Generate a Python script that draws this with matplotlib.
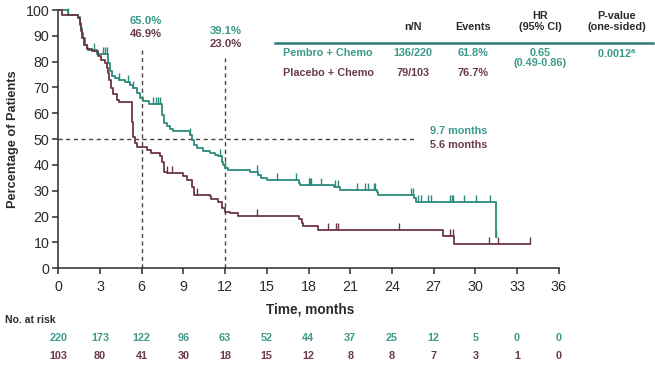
import numpy as np
import matplotlib
matplotlib.use("Agg")
import matplotlib.pyplot as plt
from matplotlib.path import Path
import matplotlib.transforms as mtransforms

plt.rcParams['font.family'] = ['Liberation Sans', 'DejaVu Sans']

# ---------------- data ----------------
pembro_t = [0, 0.7, 1.4, 1.56, 1.63, 1.68, 1.8, 1.9, 2.04, 2.16, 2.8, 3.6, 3.7, 3.84, 4.08, 4.4,
            4.8, 5.16, 5.4, 5.64, 5.9, 6.1, 6.5, 7.44, 7.63, 7.8, 8.04, 8.27, 9.5, 9.6, 9.76,
            9.95, 10.4, 10.9, 11.27, 11.5, 11.75, 11.87, 12.0, 12.2, 13.8, 14.4, 14.6, 15.0,
            17.3, 17.4, 19.8, 20.3, 22.9, 23.0, 25.6, 25.7, 31.5]
pembro_s = [100, 98.2, 97.1, 95, 93, 91, 89, 86.5, 85.3, 84.6, 83, 79.5, 76.2, 74.3, 73.6, 73,
            72.1, 71, 69.8, 67.8, 65.9, 64.6, 63.6, 59.4, 56.2, 54.9, 53.9, 53.3, 51.7, 49.7, 47.8,
            46.5, 45.6, 44.8, 43.9, 43.3, 41.3, 40, 38.8, 38.1, 37.4, 36.2, 34.9, 34,
            32.9, 32.3, 31.4, 30.3, 29.7, 28.4, 27.1, 25.6, 12.3]
pembro_cens = [0.7, 2.6, 3.2, 3.35, 3.5, 4.4, 5.0, 5.4, 6.8, 7.0, 7.15, 7.3, 9.5, 11.6, 12.0,
               14.3, 15.7, 17.1, 18.0, 18.1, 18.2, 18.9, 19.9, 20.1, 21.5, 22.1, 22.3, 22.7, 22.8,
               25.4, 25.5, 25.9, 26.1, 26.6, 26.8, 28.2, 28.3, 28.4, 29.2, 30.05, 31.05, 31.5]

placebo_t = [0, 0.24, 1.44, 1.56, 1.63, 1.73, 1.87, 2.04, 2.4, 2.83, 3.1, 3.36, 3.48, 3.6, 3.67,
             3.8, 3.96, 4.2, 4.4, 5.3, 5.4, 5.5, 5.64, 6.36, 6.7, 7.3, 7.48, 7.63, 7.8, 9.0, 9.24,
             9.6, 9.76, 10.9, 11.0, 11.5, 11.75, 12.0, 12.35, 12.95, 17.3, 17.5, 17.6, 18.7,
             27.7, 28.5, 33.9]
placebo_s = [100, 98.2, 96.9, 94.3, 91.7, 89.1, 86.5, 85, 84, 82, 80.7, 79.5, 77.5, 75.6, 73,
             69.8, 67.4, 65.2, 64.3, 56.8, 51, 48.4, 47.1, 45.8, 44.8, 43.5, 41.3, 37.4, 36.8, 35.8, 34.2,
             31.6, 28.4, 27.8, 26.7, 25.8, 23.3, 21.9, 21.3, 20.3, 19, 17.4, 16.4, 14.8,
             12.5, 9.4, 9.4]
placebo_cens = [7.85, 8.2, 9.95, 14.3, 19.4, 20.0, 20.1, 24.5, 28.2, 28.4, 31.0, 31.6, 33.9]

risk_times = [0, 3, 6, 9, 12, 15, 18, 21, 24, 27, 30, 33, 36]
pembro_risk = [220, 173, 122, 96, 63, 52, 44, 37, 25, 12, 5, 0, 0]
placebo_risk = [103, 80, 41, 30, 18, 15, 12, 8, 8, 7, 3, 1, 0]

landmark_times = [6, 12]
pembro_landmark = ["65.0%", "39.1%"]
placebo_landmark = ["46.9%", "23.0%"]
median_labels = ["9.7 months", "5.6 months"]

groups = ["Pembro + Chemo", "Placebo + Chemo"]
table_cols = ["n/N", "Events", "HR\n(95% CI)", "P-value\n(one-sided)"]
table_nN = ["136/220", "79/103"]
table_events = ["61.8%", "76.7%"]
table_hr = "0.65\n(0.49-0.86)"
table_p = "0.0012$^{\\mathregular{a}}$"

# ---------------- style ----------------
TEAL = "#2b8a7c"
TEAL_TXT = "#3c9a8b"
MAROON = "#6b3646"
MAROON_TXT = "#6a3a47"
DARK = "#2b2b2b"

W, H = 655, 368
fig = plt.figure(figsize=(W / 100, H / 100), dpi=100)

def fx(x):
    return x / W

def fy(y):
    return 1 - y / H

ax = fig.add_axes([fx(58.3), fy(268.3), fx(558.7) - fx(58.3), fy(10) - fy(268.3)])
ax.set_xlim(0, 36)
ax.set_ylim(0, 100)
for s in ["top", "right"]:
    ax.spines[s].set_visible(False)
for s in ["left", "bottom"]:
    ax.spines[s].set_linewidth(1.1)
    ax.spines[s].set_color(DARK)
ax.set_xticks(risk_times)
ax.set_yticks(range(0, 101, 10))
ax.tick_params(direction="out", length=4, width=1.1, colors=DARK, labelsize=10.3, pad=2.5)
ax.tick_params(axis="x", pad=4.5)
ax.set_ylabel("Percentage of Patients", fontsize=9.2, fontweight="bold", color=DARK, labelpad=5)

# censor marker (upward tick)
tick_marker = Path([(0, 0), (0, 1)], [Path.MOVETO, Path.LINETO])

def step_val(ts, ss, t):
    i = np.searchsorted(ts, t, side="right") - 1
    return ss[i]

for ts, ss, cens, col in [(pembro_t, pembro_s, pembro_cens, TEAL),
                          (placebo_t, placebo_s, placebo_cens, MAROON)]:
    ax.plot(ts, ss, drawstyle="steps-post", color=col, lw=1.3, clip_on=False, zorder=3)
    cy = [step_val(np.array(ts), np.array(ss), c) for c in cens]
    ax.plot(cens, cy, linestyle="none", marker=tick_marker, markersize=9.5,
            markeredgewidth=1.0, color=col, clip_on=False, zorder=3)

# reference lines
dash = dict(color="#444444", lw=1.0, linestyle=(0, (3, 2.5)), zorder=1)
ax.plot([0, 25.8], [50, 50], **dash)
ax.plot([landmark_times[0]] * 2, [0, 84.6], **dash)
ax.plot([landmark_times[1]] * 2, [0, 81.5], **dash)

# landmark annotations
offs = [0.3, 0.05]
tops = [20.5, 30.5]
for lt, p, q, o, ty in zip(landmark_times, pembro_landmark, placebo_landmark, offs, tops):
    fig.text(fx(58.3 + (lt + o) * 13.9), fy(ty), p, color=TEAL_TXT, fontsize=8.2,
             fontweight="bold", ha="center", va="center")
    fig.text(fx(58.3 + (lt + o) * 13.9), fy(ty + 13.5), q, color=MAROON_TXT, fontsize=8.2,
             fontweight="bold", ha="center", va="center")

# median annotations
fig.text(fx(430), fy(131.5), median_labels[0], color=TEAL_TXT, fontsize=7.8,
         fontweight="bold", ha="left", va="center")
fig.text(fx(430), fy(145), median_labels[1], color=MAROON_TXT, fontsize=7.8,
         fontweight="bold", ha="left", va="center")

# summary table
col_x = [413, 473, 540, 617]
for cx, lab in zip(col_x, table_cols):
    fig.text(fx(cx), fy(31.5), lab, color=DARK, fontsize=7.8, fontweight="bold",
             ha="center", va="bottom", linespacing=1.05)
fig.add_artist(plt.Line2D([fx(275), fx(653)], [fy(42.7), fy(42.7)], color="#2f7d72", lw=1.8))
row_y = [53.3, 73.3]
row_cols = [TEAL_TXT, MAROON_TXT]
for i in range(2):
    fig.text(fx(283), fy(row_y[i]), groups[i], color=row_cols[i], fontsize=7.8,
             fontweight="bold", ha="left", va="center")
    fig.text(fx(col_x[0]), fy(row_y[i]), table_nN[i], color=row_cols[i], fontsize=7.8,
             fontweight="bold", ha="center", va="center")
    fig.text(fx(col_x[1]), fy(row_y[i]), table_events[i], color=row_cols[i], fontsize=7.8,
             fontweight="bold", ha="center", va="center")
fig.text(fx(col_x[2]), fy(47.5), table_hr, color=TEAL_TXT, fontsize=7.8, fontweight="bold",
         ha="center", va="top", linespacing=1.1)
fig.text(fx(col_x[3]), fy(53.3), table_p, color=TEAL_TXT, fontsize=7.8, fontweight="bold",
         ha="center", va="center")

# x label
fig.text(fx(310), fy(310), "Time, months", fontsize=9.8, fontweight="bold", color=DARK,
         ha="center", va="center")

# number at risk
fig.text(fx(5), fy(320), "No. at risk", fontsize=7.5, fontweight="bold", color=DARK,
         ha="left", va="center")
trans = mtransforms.blended_transform_factory(ax.transData, fig.transFigure)
for t, a, b in zip(risk_times, pembro_risk, placebo_risk):
    ax.text(t, fy(338), str(a), transform=trans, color=TEAL_TXT, fontsize=7.8,
            fontweight="bold", ha="center", va="center")
    ax.text(t, fy(356), str(b), transform=trans, color=MAROON_TXT, fontsize=7.8,
            fontweight="bold", ha="center", va="center")

fig.savefig("out.png", dpi=100)
